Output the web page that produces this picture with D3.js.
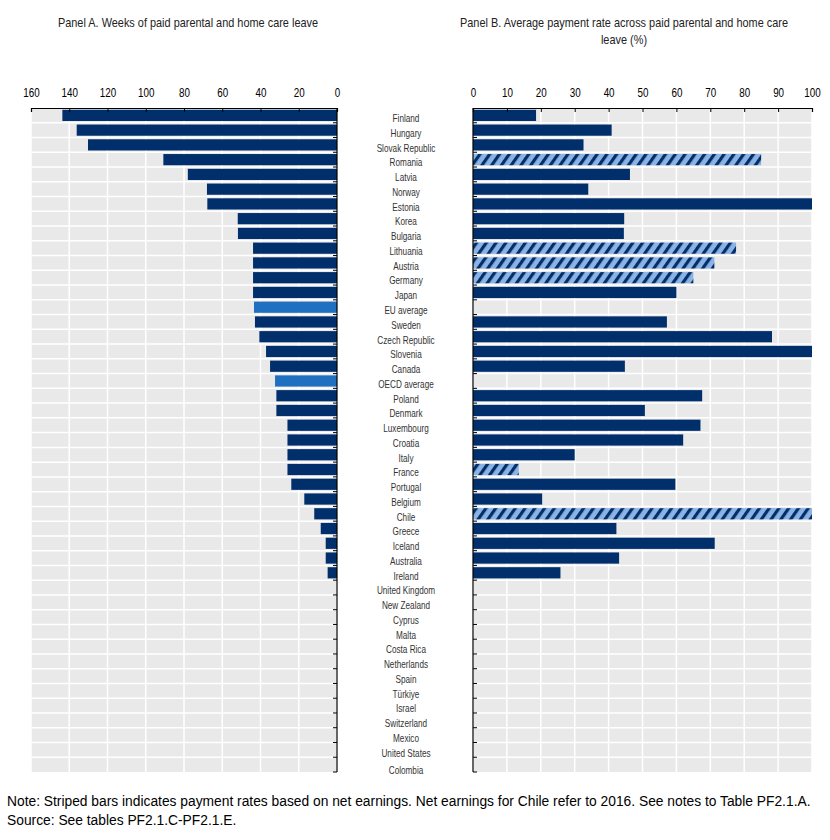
<!DOCTYPE html>
<html>
<head>
<meta charset="utf-8">
<script src="https://cdn.jsdelivr.net/npm/d3@7"></script>
<style>
  body { margin: 0; background: #fff; }
  svg text { font-family: "Liberation Sans", Arial, sans-serif; }
</style>
</head>
<body>
<div id="chart"></div>
<script>
// countries, top to bottom
const countries = ["Finland", "Hungary", "Slovak Republic", "Romania", "Latvia", "Norway", "Estonia", "Korea",
  "Bulgaria", "Lithuania", "Austria", "Germany", "Japan", "EU average", "Sweden", "Czech Republic", "Slovenia",
  "Canada", "OECD average", "Poland", "Denmark", "Luxembourg", "Croatia", "Italy", "France", "Portugal", "Belgium",
  "Chile", "Greece", "Iceland", "Australia", "Ireland", "United Kingdom", "New Zealand", "Cyprus", "Malta",
  "Costa Rica", "Netherlands", "Spain", "Türkiye", "Israel", "Switzerland", "Mexico", "United States", "Colombia"];

// Panel A: weeks of paid parental and home care leave
const weeks = [143.6, 136.1, 130.2, 90.8, 78.0, 68.0, 67.8, 51.9, 51.8, 43.9, 43.9, 43.9, 43.9, 43.4, 42.9, 40.6,
  37.1, 35.0, 32.4, 31.7, 31.7, 25.9, 25.9, 25.9, 25.9, 23.9, 17.1, 11.9, 8.5, 5.9, 5.9, 4.9,
  0, 0, 0, 0, 0, 0, 0, 0, 0, 0, 0, 0, 0];

// Panel B: average payment rate (%), null = no paid leave / no average shown
const payRate = [18.6, 40.9, 32.6, 85.0, 46.3, 34.0, 100, 44.6, 44.5, 77.6, 71.2, 65.0, 60.0, null, 57.2, 88.2,
  100, 44.8, null, 67.6, 50.7, 67.1, 62.0, 30.0, 13.5, 59.7, 20.4, 100, 42.3, 71.3, 43.1, 25.8,
  null, null, null, null, null, null, null, null, null, null, null, null, null];

// countries whose rates are based on net earnings (striped)
const netEarnings = ["Romania", "Lithuania", "Austria", "Germany", "France", "Chile"];
const averages = ["EU average", "OECD average"];

const weekTicks = [160, 140, 120, 100, 80, 60, 40, 20, 0];
const rateTicks = [0, 10, 20, 30, 40, 50, 60, 70, 80, 90, 100];

const navy = "#002f6c", avgBlue = "#1f70c1", stripeBg = "#8cb3e3", plotBg = "#e9e9e9";

const width = 830, height = 840;
const plotTop = 108, plotBottom = 772;
const narrow = 0.82; // squeeze text horizontally, the original uses a narrow face

const svg = d3.select("#chart").append("svg")
  .attr("width", width)
  .attr("height", height);

const defs = svg.append("defs");
const pat = defs.append("pattern")
  .attr("id", "stripes")
  .attr("patternUnits", "userSpaceOnUse")
  .attr("width", 8)
  .attr("height", 8)
  .attr("patternTransform", "rotate(35)");
pat.append("rect").attr("width", 8).attr("height", 8).attr("fill", stripeBg);
pat.append("rect").attr("width", 3.2).attr("height", 8).attr("fill", navy);

const y = d3.scaleBand()
  .domain(countries)
  .range([plotTop, plotBottom])
  .paddingInner(0.24)
  .paddingOuter(0.12);
// row boundaries for horizontal grid lines and category ticks
const rowEdge = i => plotTop + i * (plotBottom - plotTop) / countries.length;

const xA = d3.scaleLinear().domain([160, 0]).range([31, 337]);
const xB = d3.scaleLinear().domain([0, 100]).range([473, 812]);

function panel(x, ticks) {
  const g = svg.append("g");
  const [x0, x1] = x.range().slice().sort((a, b) => a - b);
  g.append("rect")
    .attr("x", x0).attr("y", plotTop)
    .attr("width", x1 - x0).attr("height", plotBottom - plotTop)
    .attr("fill", plotBg);
  // vertical grid
  g.selectAll(".vgrid")
    .data(ticks)
    .join("line")
    .attr("x1", d => x(d)).attr("x2", d => x(d))
    .attr("y1", plotTop).attr("y2", plotBottom)
    .attr("stroke", "#fff").attr("stroke-width", 1.5);
  // horizontal grid between rows
  g.selectAll(".hgrid")
    .data(d3.range(1, countries.length))
    .join("line")
    .attr("x1", x0).attr("x2", x1)
    .attr("y1", d => rowEdge(d)).attr("y2", d => rowEdge(d))
    .attr("stroke", "#fff").attr("stroke-width", 1.5);
  return g;
}

function axes(g, x, ticks, axisSide) {
  const [x0, x1] = x.range().slice().sort((a, b) => a - b);
  // top value axis
  const ax = d3.axisTop(x).tickValues(ticks).tickSize(-4).tickPadding(11);
  g.append("g")
    .attr("transform", `translate(0,${plotTop})`)
    .call(ax)
    .call(s => s.select(".domain").attr("stroke", "#000").attr("stroke-width", 1.2))
    .call(s => s.selectAll(".tick line").attr("stroke", "#000"))
    .call(s => s.selectAll(".tick text").attr("font-size", 12).attr("fill", "#000")
      .attr("font-family", null)
      .attr("transform", `scale(${narrow},1)`));
  // category axis line with inward ticks at row boundaries
  const ax0 = axisSide === "right" ? x1 : x0;
  const dir = axisSide === "right" ? -1 : 1;
  g.append("line")
    .attr("x1", ax0).attr("x2", ax0)
    .attr("y1", plotTop).attr("y2", plotBottom)
    .attr("stroke", "#000").attr("stroke-width", 1.2);
  g.selectAll(".ctick")
    .data(d3.range(1, countries.length + 1))
    .join("line")
    .attr("x1", ax0).attr("x2", ax0 + dir * 4)
    .attr("y1", d => rowEdge(d)).attr("y2", d => rowEdge(d))
    .attr("stroke", "#000").attr("stroke-width", 1);
}

// Panel A
const gA = panel(xA, weekTicks);
gA.selectAll(".bar")
  .data(countries.map((c, i) => ({ c, v: weeks[i] })).filter(d => d.v > 0))
  .join("rect")
  .attr("x", d => xA(d.v))
  .attr("width", d => xA(0) - xA(d.v))
  .attr("y", d => y(d.c))
  .attr("height", y.bandwidth())
  .attr("fill", d => averages.includes(d.c) ? avgBlue : navy);
axes(gA, xA, weekTicks, "right");

// Panel B
const gB = panel(xB, rateTicks);
gB.selectAll(".bar")
  .data(countries.map((c, i) => ({ c, v: payRate[i] })).filter(d => d.v != null))
  .join("rect")
  .attr("x", xB(0))
  .attr("width", d => xB(d.v) - xB(0))
  .attr("y", d => y(d.c))
  .attr("height", y.bandwidth())
  .attr("fill", d => netEarnings.includes(d.c) ? "url(#stripes)" : navy);
axes(gB, xB, rateTicks, "left");

// narrow text helper
function label(x, yy, txt, size, fill, sx) {
  return svg.append("text")
    .attr("transform", `translate(${x},${yy}) scale(${sx},1)`)
    .attr("text-anchor", "middle")
    .attr("font-size", size)
    .attr("fill", fill)
    .text(txt);
}

// country labels in the middle column (sit a little below the bar centre, last one lower)
countries.forEach((c, i) => {
  const extra = i === countries.length - 1 ? 3 : 0;
  label(406, y(c) + y.bandwidth() / 2 + 6.8 + extra, c, 10, "#333", narrow);
});

// titles
label(188, 27, "Panel A. Weeks of paid parental and home care leave", 13, "#222", 0.84);
label(624, 27, "Panel B. Average payment rate across paid parental and home care", 13, "#222", 0.84);
label(624, 44, "leave (%)", 13, "#222", 0.84);

// notes
svg.append("text")
  .attr("x", 7).attr("y", 806)
  .attr("font-size", 13.8).attr("fill", "#000")
  .text("Note: Striped bars indicates payment rates based on net earnings. Net earnings for Chile refer to 2016. See notes to Table PF2.1.A.");
svg.append("text")
  .attr("x", 7).attr("y", 825)
  .attr("font-size", 13.8).attr("fill", "#000")
  .text("Source: See tables PF2.1.C-PF2.1.E.");
</script>
</body>
</html>
